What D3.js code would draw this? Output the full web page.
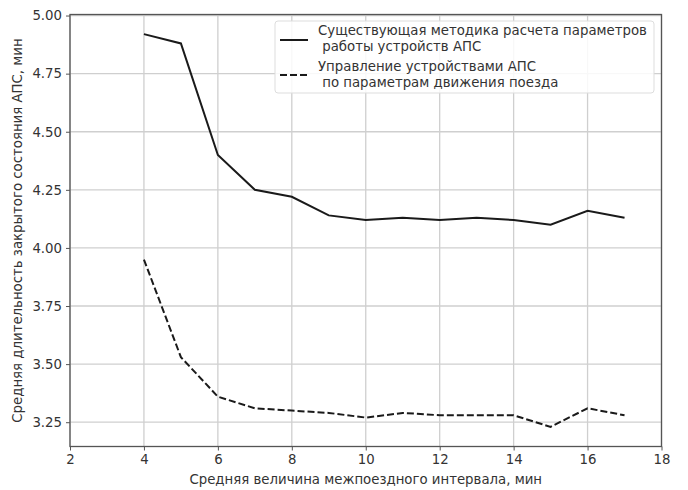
<!DOCTYPE html>
<html>
<head>
<meta charset="utf-8">
<script src="https://cdn.jsdelivr.net/npm/d3@7"></script>
<style>
  html, body { margin: 0; padding: 0; background: #fff; }
  svg { display: block; font-family: "DejaVu Sans", sans-serif; }
</style>
</head>
<body>
<svg id="chart" width="688" height="490"></svg>
<script>
// Mean headway between trains, minutes
const intervals = [4, 5, 6, 7, 8, 9, 10, 11, 12, 13, 14, 15, 16, 17];
// Existing method of computing crossing device parameters
const existingMethod = [4.92, 4.88, 4.40, 4.25, 4.22, 4.14, 4.12, 4.13, 4.12, 4.13, 4.12, 4.10, 4.16, 4.13];
// Control of crossing devices by train motion parameters
const trainControl = [3.95, 3.53, 3.36, 3.31, 3.30, 3.29, 3.27, 3.29, 3.28, 3.28, 3.28, 3.23, 3.31, 3.28];

const xTicks = [2, 4, 6, 8, 10, 12, 14, 16, 18];
const yTicks = [3.25, 3.50, 3.75, 4.00, 4.25, 4.50, 4.75, 5.00];

const seriesNames = [
  ["Существующая методика расчета параметров", " работы устройств АПС"],
  ["Управление устройствами АПС", " по параметрам движения поезда"]
];
const xLabel = "Средняя величина межпоездного интервала, мин";
const yLabel = "Средняя длительность закрытого состояния АПС, мин";

const svg = d3.select("#chart");
const plotLeft = 70, plotRight = 661.5, plotTop = 14.5, plotBottom = 446.5;

const x = d3.scaleLinear().domain([2, 18]).range([plotLeft, plotRight]);
const y = d3.scaleLinear().domain([3.1455, 5.0045]).range([plotBottom, plotTop]);

const textColor = "#333";
const gridColor = "#cfcfcf";

// grid
const g = svg.append("g");
g.selectAll("line.vx").data(xTicks).join("line")
  .attr("x1", d => x(d)).attr("x2", d => x(d))
  .attr("y1", plotTop).attr("y2", plotBottom)
  .attr("stroke", gridColor).attr("stroke-width", 1.3);
g.selectAll("line.hy").data(yTicks).join("line")
  .attr("x1", plotLeft).attr("x2", plotRight)
  .attr("y1", d => y(d)).attr("y2", d => y(d))
  .attr("stroke", gridColor).attr("stroke-width", 1.3);

// series lines
const line = d3.line().x((d, i) => x(intervals[i])).y(d => y(d));
svg.append("path").datum(existingMethod)
  .attr("d", line).attr("fill", "none")
  .attr("stroke", "#1a1a1a").attr("stroke-width", 2);
svg.append("path").datum(trainControl)
  .attr("d", line).attr("fill", "none")
  .attr("stroke", "#1a1a1a").attr("stroke-width", 2)
  .attr("stroke-dasharray", "7,3");

// axes
const xAxis = d3.axisBottom(x).tickValues(xTicks).tickFormat(d3.format("d"))
  .tickSizeInner(4).tickSizeOuter(0).tickPadding(4);
const yAxis = d3.axisLeft(y).tickValues(yTicks).tickFormat(d3.format(".2f"))
  .tickSizeInner(4).tickSizeOuter(0).tickPadding(4);

const xa = svg.append("g").attr("transform", `translate(0,${plotBottom})`).call(xAxis);
const ya = svg.append("g").attr("transform", `translate(${plotLeft},0)`).call(yAxis);
[xa, ya].forEach(a => {
  a.select(".domain").remove();
  a.selectAll("line").attr("stroke", "#555").attr("stroke-width", 1);
  a.selectAll("text").attr("fill", textColor)
    .style("font-size", "13.3px").style("font-family", "DejaVu Sans, sans-serif");
});

// frame
svg.append("rect")
  .attr("x", plotLeft).attr("y", plotTop)
  .attr("width", plotRight - plotLeft).attr("height", plotBottom - plotTop)
  .attr("fill", "none").attr("stroke", "#555").attr("stroke-width", 1.3);

// axis titles
svg.append("text")
  .attr("x", (plotLeft + plotRight) / 2).attr("y", 484)
  .attr("text-anchor", "middle").attr("fill", textColor)
  .style("font-size", "13.3px").text(xLabel);
svg.append("text")
  .attr("transform", `translate(22,${(plotTop + plotBottom) / 2}) rotate(-90)`)
  .attr("text-anchor", "middle").attr("fill", textColor)
  .style("font-size", "13.3px").text(yLabel);

// legend
const lg = svg.append("g");
lg.append("rect")
  .attr("x", 275).attr("y", 21).attr("width", 379).attr("height", 72)
  .attr("rx", 3).attr("fill", "#fff").attr("fill-opacity", 0.85)
  .attr("stroke", "#ddd").attr("stroke-width", 1);
const rows = [
  { dash: null, ly: 40, t: [34.5, 51] },
  { dash: "7,3", ly: 75, t: [71, 87] }
];
rows.forEach((r, i) => {
  lg.append("line")
    .attr("x1", 280).attr("x2", 308).attr("y1", r.ly).attr("y2", r.ly)
    .attr("stroke", "#1a1a1a").attr("stroke-width", 2)
    .attr("stroke-dasharray", r.dash);
  seriesNames[i].forEach((s, k) => {
    lg.append("text")
      .attr("x", 318).attr("y", r.t[k])
      .attr("fill", textColor).style("font-size", "13.3px")
      .attr("xml:space", "preserve").style("white-space", "pre")
      .text(s);
  });
});
</script>
</body>
</html>
